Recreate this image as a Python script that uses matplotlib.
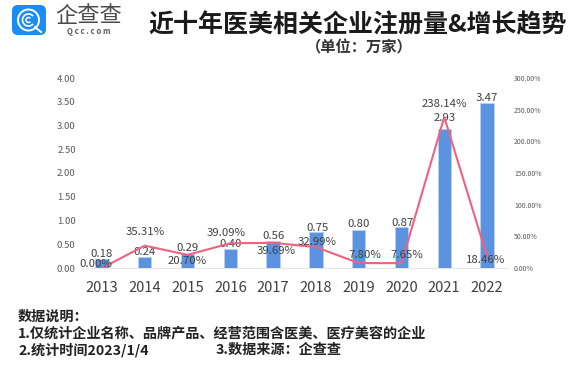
import matplotlib
matplotlib.use('Agg')
import matplotlib.pyplot as plt
from matplotlib.patches import FancyBboxPatch, Circle, Arc

plt.rcParams['font.family'] = ['Noto Sans CJK SC', 'DejaVu Sans']

years = ['2013', '2014', '2015', '2016', '2017', '2018', '2019', '2020', '2021', '2022']
registros = [0.18, 0.24, 0.29, 0.40, 0.56, 0.75, 0.80, 0.87, 2.93, 3.47]
crescimento = [0.00, 35.31, 20.70, 39.09, 39.69, 32.99, 7.80, 7.65, 238.14, 18.46]
y_left = [0.0, 0.5, 1.0, 1.5, 2.0, 2.5, 3.0, 3.5, 4.0]
y_right = [0, 50, 100, 150, 200, 250, 300]

# deslocamento dos rotulos, em pixels
off_bar = [(0, 5.5), (0, 4.6), (0, 6), (0, 5), (0, 5.4), (2, 4.4), (0, 6), (1, 3.7), (0, 10.8), (0, 5.2)]
off_line = [(-6, 4), (0, 13.6), (0, -6), (-4, 10), (3, -8), (1, 5), (6, 8), (5, 8), (0, 13), (-1, -4)]

W, H = 576, 368
fig = plt.figure(figsize=(W / 100, H / 100), dpi=100)
PX = 0.72

ax = fig.add_axes([80.6 / W, 1 - 268 / H, (508.4 - 80.6) / W, 190 / H])
x = list(range(len(years)))
ax.bar(x, registros, width=0.31, color='#5B93E0', edgecolor='#B9D2F3', linewidth=0.6, zorder=2)
ax.set_xlim(-0.5, 9.5)
ax.set_ylim(0, 4)
ax.set_xticks(x)
ax.set_xticklabels(years, fontsize=10.6, color='#404040')
ax.set_yticks(y_left)
ax.set_yticklabels(['%.2f' % v for v in y_left], fontsize=6.8, color='#595959')
ax.tick_params(axis='both', length=0)
ax.tick_params(axis='x', pad=9)
ax.tick_params(axis='y', pad=3.5)
for s in ['top', 'left', 'right']:
    ax.spines[s].set_visible(False)
ax.spines['bottom'].set_color('#E4E4E4')
ax.spines['bottom'].set_linewidth(0.6)

ax2 = ax.twinx()
ax2.plot(x, crescimento, color='#F0627E', lw=1.5, zorder=3, solid_joinstyle='miter')
ax2.set_ylim(0, 300)
ax2.set_yticks(y_right)
ax2.set_yticklabels(['%.2f%%' % v for v in y_right], fontsize=5, color='#595959')
ax2.tick_params(axis='y', length=0, pad=4)
for s in ax2.spines.values():
    s.set_visible(False)

for i, v in enumerate(registros):
    ax.annotate('%.2f' % v, (i, v), xytext=(off_bar[i][0] * PX, off_bar[i][1] * PX),
                textcoords='offset points', ha='center', va='center',
                fontsize=8.2, color='#404040', zorder=5, annotation_clip=False)
for i, v in enumerate(crescimento):
    ax2.annotate('%.2f%%' % v, (i, v), xytext=(off_line[i][0] * PX, off_line[i][1] * PX),
                 textcoords='offset points', ha='center', va='center',
                 fontsize=8.2, color='#404040', zorder=5, annotation_clip=False)

# camada da pagina, em pixels: logo, titulo e notas
page = fig.add_axes([0, 0, 1, 1], zorder=10)
page.set_xlim(0, W)
page.set_ylim(H, 0)
page.axis('off')
page.patch.set_alpha(0)

page.add_patch(FancyBboxPatch((15, 8), 28, 24, boxstyle='round,pad=3,rounding_size=6',
                              fc='#1A8CF5', ec='none'))
page.add_patch(Circle((28.5, 20), 10.5, fc='none', ec='white', lw=1.4))
page.add_patch(Arc((28.5, 20), 12, 12, theta1=40, theta2=320, ec='white', lw=1.2))
page.add_patch(Arc((28.5, 20), 5, 5, theta1=40, theta2=320, ec='white', lw=1.1))
page.plot([35, 41], [27, 32], color='white', lw=1.4)

page.text(88.5, 15, '企查查', fontsize=16, color='#4A4A4A', ha='center', va='center')
page.text(88.5, 32, 'Q c c . c o m', fontsize=5.6, color='#5A5A5A', ha='center', va='center', fontweight='bold')

page.text(358, 25, '近十年医美相关企业注册量&增长趋势', fontsize=18, fontweight='bold',
          color='#1A1A1A', ha='center', va='center')
page.text(359.5, 47, '（单位：万家）', fontsize=11, fontweight='bold', color='#333333', ha='center', va='center')

page.text(18, 317, '数据说明：', fontsize=10.2, fontweight='bold', color='#222222', va='center')
page.text(18, 333.5, '1.仅统计企业名称、品牌产品、经营范围含医美、医疗美容的企业', fontsize=10.2,
          fontweight='bold', color='#222222', va='center')
page.text(18, 350, '2.统计时间2023/1/4', fontsize=10.2, fontweight='bold', color='#222222', va='center')
page.text(216, 350, '3.数据来源：企查查', fontsize=10.2, fontweight='bold', color='#222222', va='center')

plt.savefig('out.png', dpi=100)
